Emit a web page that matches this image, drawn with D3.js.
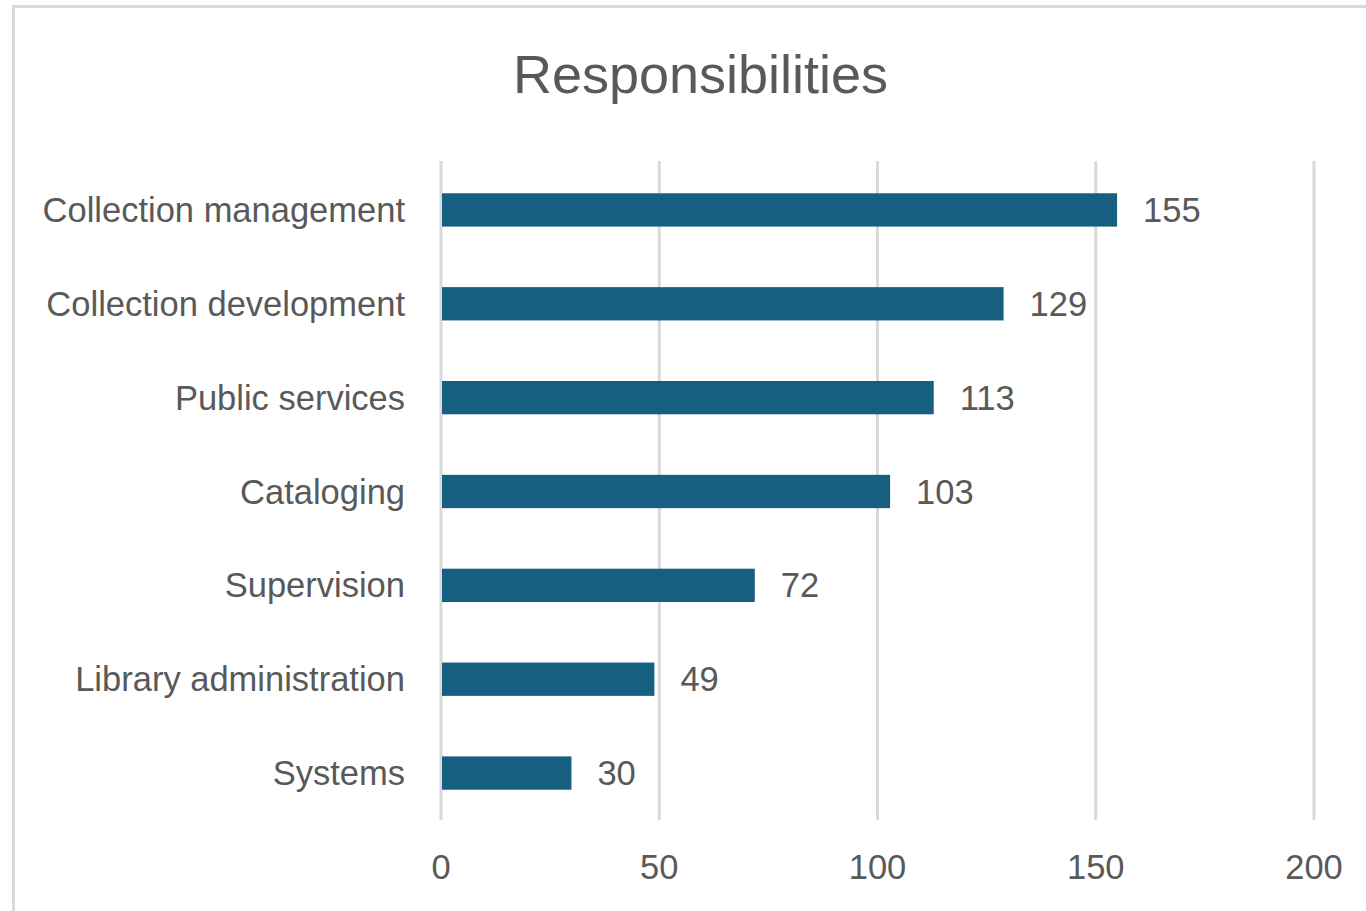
<!DOCTYPE html>
<html>
<head>
<meta charset="utf-8">
<script src="https://cdn.jsdelivr.net/npm/d3@7"></script>
<style>
  html, body { margin: 0; padding: 0; background: #ffffff; }
  svg { display: block; }
  text { font-family: "Liberation Sans", Arial, sans-serif; fill: #595959; }
</style>
</head>
<body>
<svg id="chart" width="1366" height="911"></svg>
<script>
const title = "Responsibilities";
const categories = ["Collection management", "Collection development", "Public services", "Cataloging", "Supervision", "Library administration", "Systems"];
const values = [155, 129, 113, 103, 72, 49, 30];
const tickValues = [0, 50, 100, 150, 200];

const svg = d3.select("#chart");
const W = 1366, H = 911;

// chart border
svg.append("rect")
  .attr("x", 13.5).attr("y", 6.5)
  .attr("width", W + 20).attr("height", H + 20)
  .attr("fill", "#ffffff")
  .attr("stroke", "#d9d9d9").attr("stroke-width", 3);

const x = d3.scaleLinear().domain([0, 200]).range([440.5, 1313.5]);
const y = d3.scaleBand().domain(categories).range([163, 820]).paddingInner(0.645).paddingOuter(0.3225);
const gridTop = 161, gridBottom = 820;

// title
svg.append("text")
  .attr("x", 700.5).attr("y", 93)
  .attr("text-anchor", "middle")
  .style("font-size", "54px")
  .text(title);

// gridlines
const xAxis = d3.axisBottom(x).tickValues(tickValues).tickSize(-(gridBottom - gridTop)).tickSizeOuter(0).tickPadding(0);
const gx = svg.append("g").attr("transform", `translate(0,${gridBottom})`).call(xAxis);
gx.select(".domain").remove();
gx.selectAll(".tick line").attr("stroke", "#d9d9d9").attr("stroke-width", 3);
gx.selectAll(".tick text")
  .attr("y", 59).attr("dy", null)
  .style("font-size", "34.5px")
  .attr("fill", "#595959")
  .style("font-family", '"Liberation Sans", Arial, sans-serif');

// bars
svg.append("g").selectAll("rect")
  .data(categories)
  .join("rect")
  .attr("x", x(0) + 1.5)
  .attr("y", d => y(d))
  .attr("width", (d, i) => x(values[i]) - x(0) - 1.5)
  .attr("height", y.bandwidth())
  .attr("fill", "#175f80");

// category labels
svg.append("g").selectAll("text")
  .data(categories)
  .join("text")
  .attr("x", 405)
  .attr("y", d => y(d) + y.bandwidth() / 2)
  .attr("dy", "0.35em")
  .attr("text-anchor", "end")
  .style("font-size", "34.5px")
  .text(d => d);

// value labels
svg.append("g").selectAll("text")
  .data(categories)
  .join("text")
  .attr("x", (d, i) => x(values[i]) + 26)
  .attr("y", d => y(d) + y.bandwidth() / 2)
  .attr("dy", "0.35em")
  .attr("text-anchor", "start")
  .style("font-size", "34.5px")
  .text((d, i) => values[i]);
</script>
</body>
</html>
